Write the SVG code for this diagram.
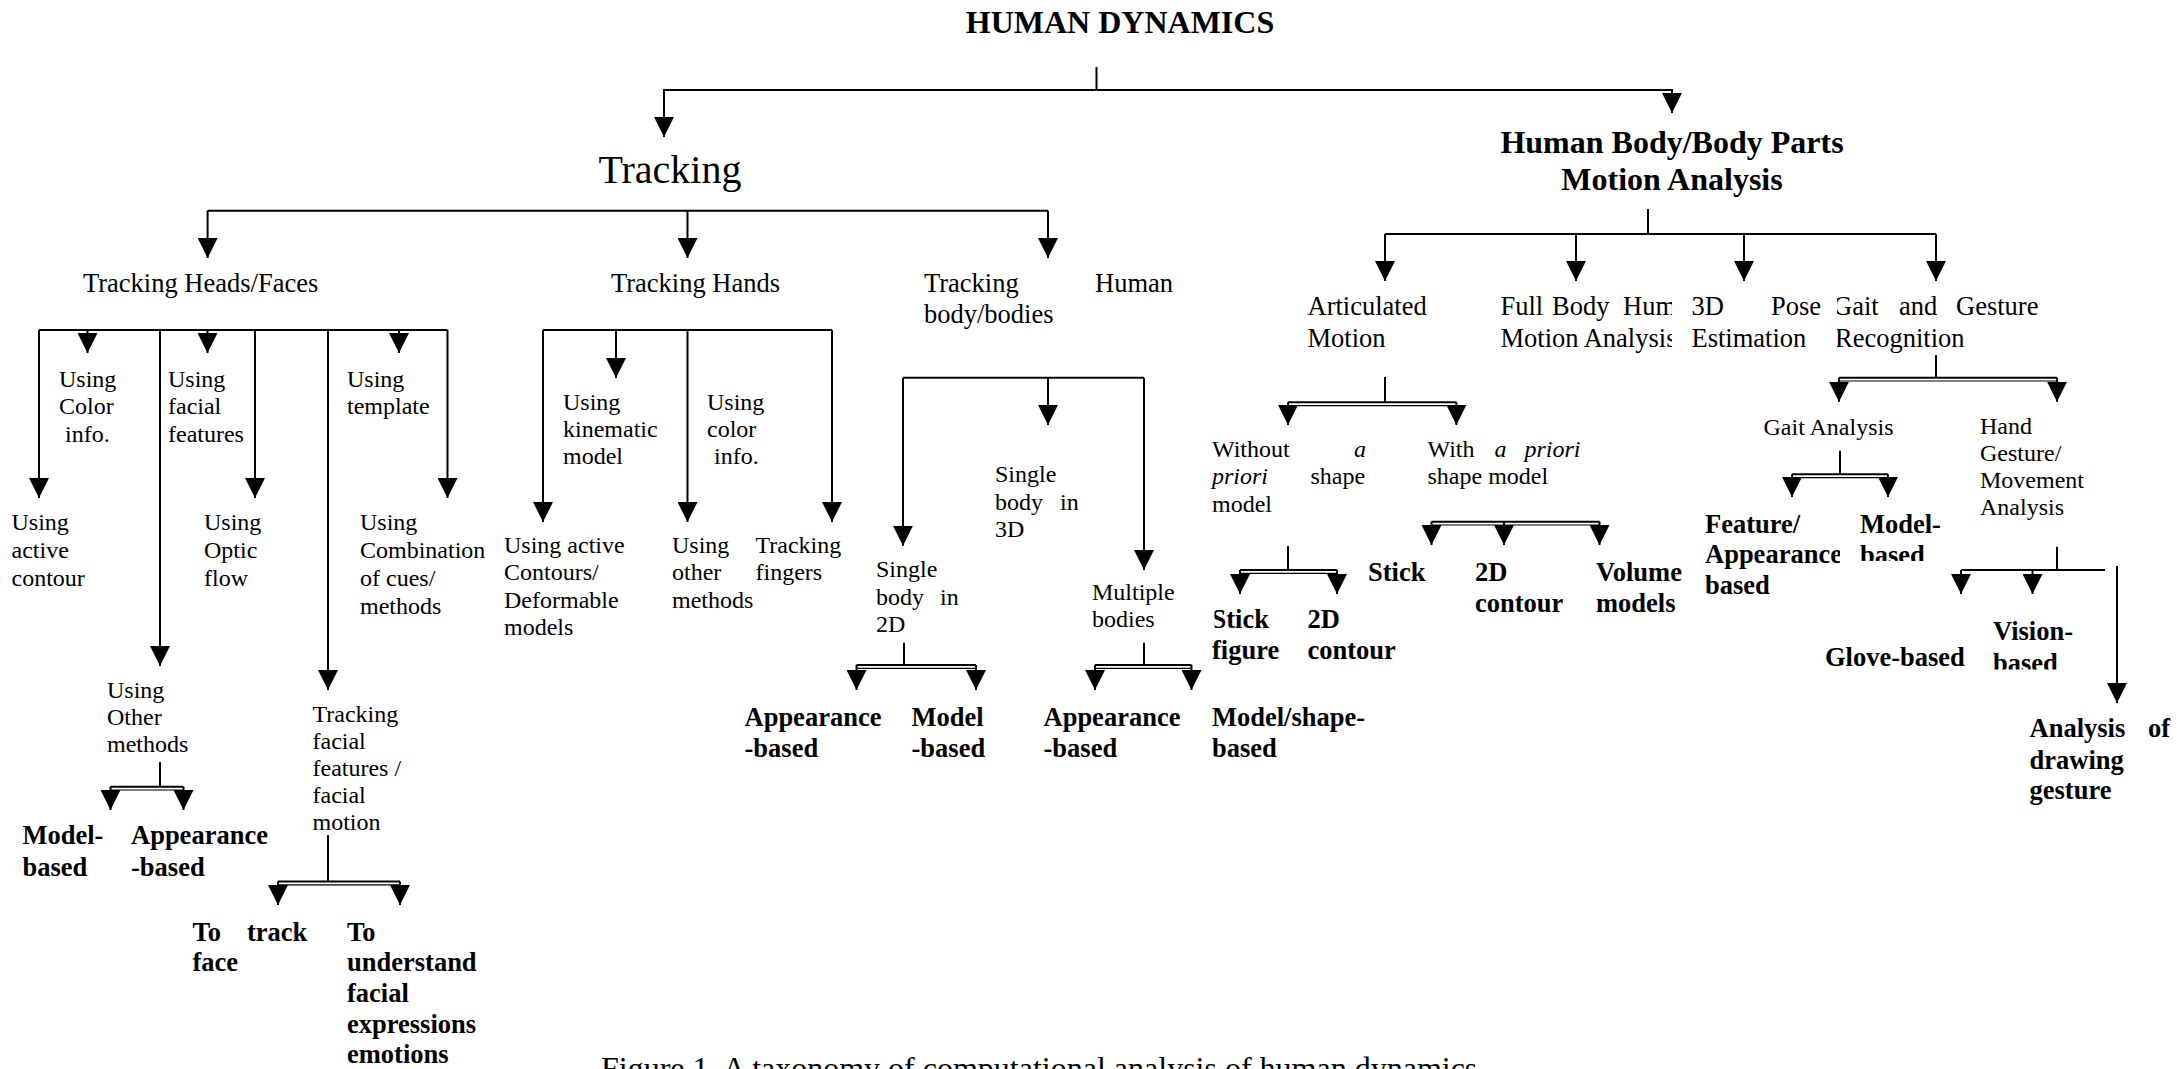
<svg xmlns="http://www.w3.org/2000/svg" width="2179" height="1069" viewBox="0 0 2179 1069">
<style>
text { font-family: 'Liberation Serif', 'Times New Roman', serif; fill: #000; }
.n { font-size: 24px; }
.m { font-size: 26.5px; }
.b { font-size: 26.5px; font-weight: bold; }
.h { font-size: 32px; font-weight: bold; }
.c { fill: none; stroke: #000; stroke-width: 2; }
.a { fill: none; stroke: #000; stroke-width: 2; marker-end: url(#arr); }
.d { fill: none; stroke: #000; stroke-width: 1.2; }
</style>
<defs>
<marker id="arr" markerUnits="userSpaceOnUse" markerWidth="20" markerHeight="20" viewBox="0 0 20 20" refX="20" refY="10" orient="auto">
<path d="M0,0 L20,10 L0,20 Z" fill="#000"/>
</marker>
<clipPath id="clipFull"><rect x="1480" y="280" width="192" height="80"/></clipPath>
<clipPath id="clipGait"><rect x="1837" y="280" width="320" height="80"/></clipPath>
<clipPath id="clipStick"><rect x="1214.5" y="600" width="100" height="40"/></clipPath>
<clipPath id="clipVol"><rect x="1580" y="550" width="104" height="80"/></clipPath>
<clipPath id="clipApp"><rect x="1690" y="500" width="150" height="110"/></clipPath>
<clipPath id="clipModel"><rect x="1850" y="500" width="150" height="61"/></clipPath>
<clipPath id="clipVision"><rect x="1980" y="610" width="150" height="59.5"/></clipPath>
</defs>

<g id="connectors">
<path class="c" d="M1096.5,67 V90"/>
<path class="a" d="M1096.5,90 H664 V137"/>
<path class="a" d="M1096.5,90 H1672 V113"/>

<path class="c" d="M207.6,210.7 H1048"/>
<path class="a" d="M207.6,210.7 V258"/>
<path class="a" d="M687.5,210.7 V258"/>
<path class="a" d="M1048,210.7 V258"/>

<path class="c" d="M39,330 H447.5"/>
<path class="a" d="M39,330 V498"/>
<path class="a" d="M87.5,330 V353"/>
<path class="a" d="M160,330 V666"/>
<path class="a" d="M207.5,330 V353"/>
<path class="a" d="M255,330 V498"/>
<path class="a" d="M328,330 V690"/>
<path class="a" d="M399,330 V353"/>
<path class="a" d="M447.5,330 V498"/>

<path class="c" d="M160,762 V786.7"/>
<path class="c" d="M110.5,786.7 H183.5"/>
<path class="d" d="M110.5,790 H183.5"/>
<path class="a" d="M110.5,786.7 V810"/>
<path class="a" d="M183.5,786.7 V810"/>

<path class="c" d="M328,835 V881.5"/>
<path class="c" d="M278,881.5 H400"/>
<path class="d" d="M278,884.8 H400"/>
<path class="a" d="M278,881.5 V905"/>
<path class="a" d="M400,881.5 V905"/>

<path class="c" d="M543,330 H832"/>
<path class="a" d="M543,330 V522"/>
<path class="a" d="M616,330 V378"/>
<path class="a" d="M687.5,330 V522"/>
<path class="a" d="M832,330 V522"/>

<path class="c" d="M903,377.7 H1144"/>
<path class="a" d="M903,377.7 V545.7"/>
<path class="a" d="M1048,377.7 V425"/>
<path class="a" d="M1144,377.7 V570"/>

<path class="c" d="M904,642.7 V665"/>
<path class="c" d="M856.5,665 H976"/>
<path class="d" d="M856.5,668.3 H976"/>
<path class="a" d="M856.5,665 V690"/>
<path class="a" d="M976,665 V690"/>

<path class="c" d="M1144,642.7 V665"/>
<path class="c" d="M1095,665 H1191.5"/>
<path class="d" d="M1095,668.3 H1191.5"/>
<path class="a" d="M1095,665 V690"/>
<path class="a" d="M1191.5,665 V690"/>

<path class="c" d="M1648,209 V234"/>
<path class="c" d="M1385,234 H1936"/>
<path class="a" d="M1385,234 V281"/>
<path class="a" d="M1576,234 V281"/>
<path class="a" d="M1744,234 V281"/>
<path class="a" d="M1936,234 V281"/>

<path class="c" d="M1385,377 V402.3"/>
<path class="c" d="M1288,402.3 H1456.4"/>
<path class="d" d="M1288,405.6 H1456.4"/>
<path class="a" d="M1288,402.3 V425"/>
<path class="a" d="M1456.4,402.3 V425"/>

<path class="c" d="M1288,546 V570"/>
<path class="c" d="M1240,570 H1337"/>
<path class="d" d="M1240,573.3 H1337"/>
<path class="a" d="M1240,570 V594"/>
<path class="a" d="M1337,570 V594"/>

<path class="c" d="M1431.5,521.7 H1599.5"/>
<path class="d" d="M1431.5,525 H1599.5"/>
<path class="a" d="M1431.5,521.7 V545"/>
<path class="a" d="M1504,521.7 V545"/>
<path class="a" d="M1599.5,521.7 V545"/>

<path class="c" d="M1936,355 V377.7"/>
<path class="c" d="M1839,377.7 H2057"/>
<path class="d" d="M1839,381 H2057"/>
<path class="a" d="M1839,377.7 V401.7"/>
<path class="a" d="M2057,377.7 V401.7"/>

<path class="c" d="M1840,450.7 V474.3"/>
<path class="c" d="M1792,474.3 H1888"/>
<path class="d" d="M1792,477.6 H1888"/>
<path class="a" d="M1792,474.3 V497"/>
<path class="a" d="M1888,474.3 V497"/>

<path class="c" d="M2057,546.7 V570"/>
<path class="c" d="M1961,570 H2105"/>
<path class="a" d="M1961,570 V594"/>
<path class="a" d="M2032.5,570 V594"/>
<path class="a" d="M2117,566 V703"/>
</g>

<g id="human-dynamics"><text class="h" x="1120" y="33" text-anchor="middle">HUMAN DYNAMICS</text></g>
<g id="tracking"><text x="670" y="183" text-anchor="middle" font-size="40">Tracking</text></g>
<g id="human-body-motion"><text class="h" x="1672" y="153" text-anchor="middle">Human Body/Body Parts</text><text class="h" x="1672" y="190" text-anchor="middle">Motion Analysis</text></g>

<g id="tracking-heads"><text class="m" x="83" y="292">Tracking Heads/Faces</text></g>
<g id="tracking-hands"><text class="m" x="611" y="292">Tracking Hands</text></g>
<g id="tracking-body"><text class="m" x="924" y="292">Tracking</text><text class="m" x="1095" y="292">Human</text><text class="m" x="924" y="323">body/bodies</text></g>

<g id="using-color"><text class="n" x="59" y="387">Using</text><text class="n" x="59" y="414">Color</text><text class="n" x="65" y="442">info.</text></g>
<g id="using-facial"><text class="n" x="168" y="387">Using</text><text class="n" x="168" y="414">facial</text><text class="n" x="168" y="442">features</text></g>
<g id="using-template"><text class="n" x="347" y="387">Using</text><text class="n" x="347" y="414">template</text></g>
<g id="using-active-contour"><text class="n" x="11.5" y="530">Using</text><text class="n" x="11.5" y="558">active</text><text class="n" x="11.5" y="586">contour</text></g>
<g id="using-optic"><text class="n" x="204" y="530">Using</text><text class="n" x="204" y="558">Optic</text><text class="n" x="204" y="586">flow</text></g>
<g id="using-combination"><text class="n" x="360" y="530">Using</text><text class="n" x="360" y="558">Combination</text><text class="n" x="360" y="586">of cues/</text><text class="n" x="360" y="614">methods</text></g>
<g id="using-other"><text class="n" x="107" y="698">Using</text><text class="n" x="107" y="725">Other</text><text class="n" x="107" y="752">methods</text></g>
<g id="tracking-facial"><text class="n" x="312.5" y="721.5">Tracking</text><text class="n" x="312.5" y="748.5">facial</text><text class="n" x="312.5" y="775.5">features /</text><text class="n" x="312.5" y="802.5">facial</text><text class="n" x="312.5" y="829.5">motion</text></g>
<g id="model-based-1"><text class="b" x="22.5" y="843.5">Model-</text><text class="b" x="22.5" y="875.5">based</text></g>
<g id="appearance-based-1"><text class="b" x="131" y="843.5">Appearance</text><text class="b" x="131" y="875.5">-based</text></g>
<g id="to-track-face"><text class="b" x="192.5" y="940.5">To</text><text class="b" x="247" y="940.5">track</text><text class="b" x="192.5" y="971">face</text></g>
<g id="to-understand"><text class="b" x="347" y="940.5">To</text><text class="b" x="347" y="971">understand</text><text class="b" x="347" y="1002">facial</text><text class="b" x="347" y="1032.5">expressions</text><text class="b" x="347" y="1063">emotions</text></g>

<g id="using-kinematic"><text class="n" x="563" y="410">Using</text><text class="n" x="563" y="437">kinematic</text><text class="n" x="563" y="464">model</text></g>
<g id="using-color-hands"><text class="n" x="707" y="410">Using</text><text class="n" x="707" y="437">color</text><text class="n" x="714" y="464">info.</text></g>
<g id="using-active-contours"><text class="n" x="504" y="553">Using active</text><text class="n" x="504" y="580">Contours/</text><text class="n" x="504" y="607.5">Deformable</text><text class="n" x="504" y="635">models</text></g>
<g id="using-other-hands"><text class="n" x="672" y="553">Using</text><text class="n" x="672" y="580">other</text><text class="n" x="672" y="607.5">methods</text></g>
<g id="tracking-fingers"><text class="n" x="755.5" y="553">Tracking</text><text class="n" x="755.5" y="580">fingers</text></g>

<g id="single-3d"><text class="n" x="995" y="482">Single</text><text class="n" x="995" y="509.5">body</text><text class="n" x="1060" y="509.5">in</text><text class="n" x="995" y="537">3D</text></g>
<g id="single-2d"><text class="n" x="876" y="577">Single</text><text class="n" x="876" y="604.5">body</text><text class="n" x="940" y="604.5">in</text><text class="n" x="876" y="632">2D</text></g>
<g id="multiple-bodies"><text class="n" x="1092" y="600">Multiple</text><text class="n" x="1092" y="627">bodies</text></g>
<g id="appearance-based-2"><text class="b" x="744.5" y="726">Appearance</text><text class="b" x="744.5" y="756.5">-based</text></g>
<g id="model-based-2"><text class="b" x="911.5" y="726">Model</text><text class="b" x="911.5" y="756.5">-based</text></g>
<g id="appearance-based-3"><text class="b" x="1043.5" y="726">Appearance</text><text class="b" x="1043.5" y="756.5">-based</text></g>
<g id="model-shape-based"><text class="b" x="1212" y="726">Model/shape-</text><text class="b" x="1212" y="756.5">based</text></g>

<g id="articulated-motion"><text class="m" x="1307.5" y="315">Articulated</text><text class="m" x="1307.5" y="347">Motion</text></g>
<g id="full-body" clip-path="url(#clipFull)"><text class="m" x="1500.5" y="315">Full</text><text class="m" x="1552" y="315">Body</text><text class="m" x="1623" y="315">Hum</text><text class="m" x="1500.5" y="347">Motion Analysis</text></g>
<g id="pose-estimation"><text class="m" x="1691.5" y="315">3D</text><text class="m" x="1771" y="315">Pose</text><text class="m" x="1691.5" y="347">Estimation</text></g>
<g id="gait-gesture" clip-path="url(#clipGait)"><text class="m" x="1833" y="315">Gait</text><text class="m" x="1899" y="315">and</text><text class="m" x="1956" y="315">Gesture</text><text class="m" x="1835" y="347">Recognition</text></g>

<g id="without-priori"><text class="n" x="1212" y="457">Without</text><text class="n" x="1354" y="457" font-style="italic">a</text><text class="n" x="1212" y="484" font-style="italic">priori</text><text class="n" x="1310.5" y="484">shape</text><text class="n" x="1212" y="511.5">model</text></g>
<g id="with-priori"><text class="n" x="1427.5" y="457">With</text><text class="n" x="1494.5" y="457" font-style="italic">a</text><text class="n" x="1524.5" y="457" font-style="italic">priori</text><text class="n" x="1427.5" y="484">shape model</text></g>
<g id="stick-figure"><g clip-path="url(#clipStick)"><text class="b" x="1211.5" y="628">Stick</text></g><text class="b" x="1212" y="658.5">figure</text></g>
<g id="contour-2d-a"><text class="b" x="1307.5" y="628">2D</text><text class="b" x="1307.5" y="658.5">contour</text></g>
<g id="stick"><text class="b" x="1368" y="581">Stick</text></g>
<g id="contour-2d-b"><text class="b" x="1475" y="581">2D</text><text class="b" x="1475" y="611.5">contour</text></g>
<g id="volume-models" clip-path="url(#clipVol)"><text class="b" x="1596" y="581">Volume</text><text class="b" x="1596" y="611.5">models</text></g>

<g id="gait-analysis"><text class="n" x="1763.5" y="434.5">Gait Analysis</text></g>
<g id="hand-gesture"><text class="n" x="1980" y="433.5">Hand</text><text class="n" x="1980" y="460.5">Gesture/</text><text class="n" x="1980" y="488">Movement</text><text class="n" x="1980" y="515">Analysis</text></g>
<g id="feature-appearance" clip-path="url(#clipApp)"><text class="b" x="1705" y="533">Feature/</text><text class="b" x="1705" y="563">Appearance</text><text class="b" x="1705" y="594">based</text></g>
<g id="model-based-3" clip-path="url(#clipModel)"><text class="b" x="1860" y="533">Model-</text><text class="b" x="1860" y="563.5">based</text></g>
<g id="glove-based"><text class="b" x="1825" y="665.5">Glove-based</text></g>
<g id="vision-based" clip-path="url(#clipVision)"><text class="b" x="1993" y="640">Vision-</text><text class="b" x="1993" y="671.5">based</text></g>
<g id="drawing-gesture"><text class="b" x="2029.5" y="737">Analysis</text><text class="b" x="2148" y="737">of</text><text class="b" x="2029.5" y="768.5">drawing</text><text class="b" x="2029.5" y="798.5">gesture</text></g>

<g id="caption"><text x="601" y="1079" font-size="32">Figure 1. A taxonomy of computational analysis of human dynamics</text></g>
</svg>
